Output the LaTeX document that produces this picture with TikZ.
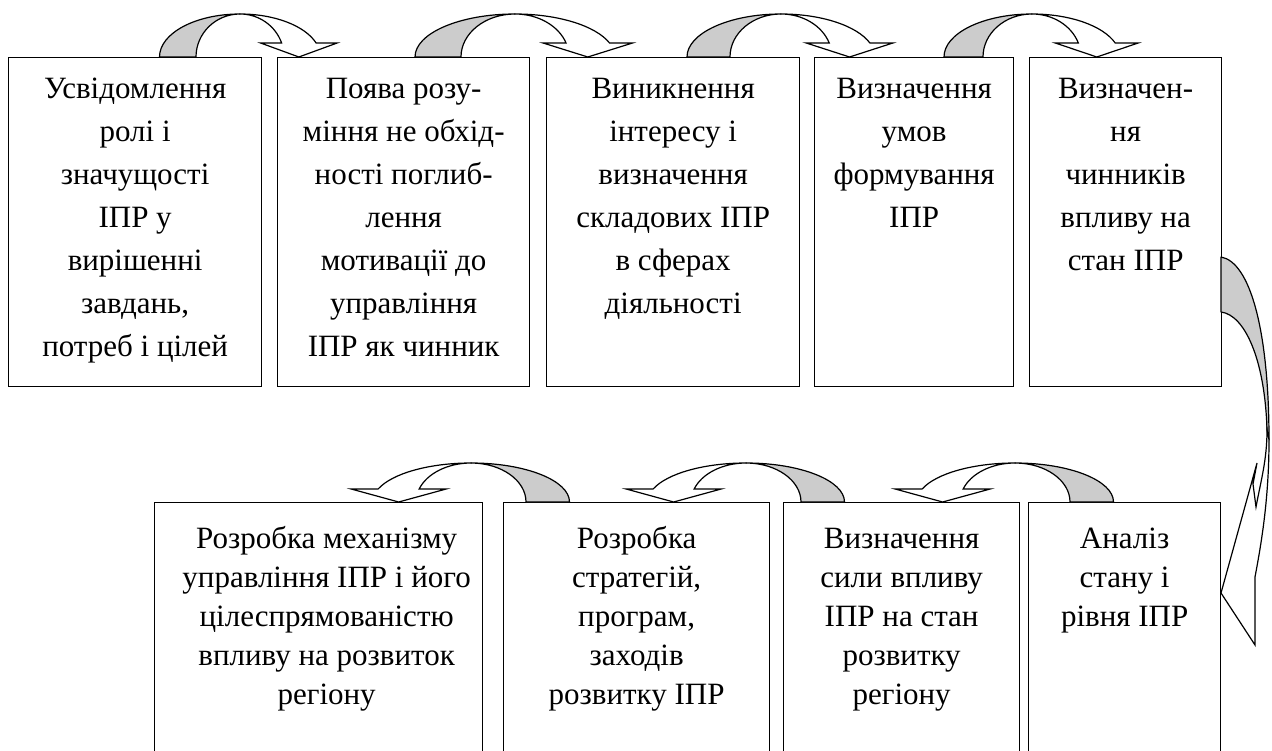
\documentclass[tikz,border=0pt]{standalone}
\usepackage{fontspec}
\setmainfont{Liberation Serif}
\tikzset{
  boxst/.style={draw, line width=1.3pt, inner sep=0pt, anchor=north west},
  ttop/.style={anchor=north, inner sep=0pt, align=center, font=\fontsize{31}{43}\selectfont},
  tbot/.style={anchor=north, inner sep=0pt, align=center, font=\fontsize{31}{39}\selectfont},
  backst/.style={fill=gray!40, draw=black, line width=1.2pt, line join=round},
  frontst/.style={fill=white, draw=black, line width=1.2pt, line join=miter},
}
% top curved arrow pointing right: #1 cx, #2 outer rx, #3 inner rx, #4 wing
\newcommand\toparr[4]{%
  \pgfmathsetmacro\xo{#1+#2*cos(19)}%
  \pgfmathsetmacro\xi{#1+#3*cos(19)}%
  \pgfmathsetmacro\xt{(\xo+\xi)/2}%
  \filldraw[backst] (#1-#2,-57) arc[start angle=180, end angle=90, x radius=#2pt, y radius=43pt]
     arc[start angle=90, end angle=180, x radius=#3pt, y radius=43pt] -- cycle;
  \filldraw[frontst] (#1,-14) arc[start angle=90, end angle=19, x radius=#2pt, y radius=43pt]
     -- (\xo+#4,-43) -- (\xt,-57) -- (\xi-#4,-43) -- (\xi,-43)
     arc[start angle=19, end angle=90, x radius=#3pt, y radius=43pt] -- cycle;
}
% bottom curved arrow pointing left
\newcommand\botarr[4]{%
  \pgfmathsetmacro\xo{#1-#2*cos(19.5)}%
  \pgfmathsetmacro\xi{#1-#3*cos(19.5)}%
  \pgfmathsetmacro\xt{(\xo+\xi)/2}%
  \filldraw[backst] (#1+#2,-502) arc[start angle=0, end angle=90, x radius=#2pt, y radius=39pt]
     arc[start angle=90, end angle=0, x radius=#3pt, y radius=39pt] -- cycle;
  \filldraw[frontst] (#1,-463) arc[start angle=90, end angle=160.5, x radius=#2pt, y radius=39pt]
     -- (\xo-#4,-489) -- (\xt,-502) -- (\xi+#4,-489) -- (\xi,-489)
     arc[start angle=160.5, end angle=90, x radius=#3pt, y radius=39pt] -- cycle;
}
\begin{document}
\begin{tikzpicture}[x=1pt, y=1pt]
\useasboundingbox (0,0) rectangle (1272,-751);
% top row boxes
\node[boxst, minimum width=253pt, minimum height=329pt] (b1) at (8,-57) {};
\node[boxst, minimum width=252pt, minimum height=329pt] (b2) at (277,-57) {};
\node[boxst, minimum width=253pt, minimum height=329pt] (b3) at (546,-57) {};
\node[boxst, minimum width=199pt, minimum height=329pt] (b4) at (814,-57) {};
\node[boxst, minimum width=192pt, minimum height=329pt] (b5) at (1029,-57) {};
% bottom row boxes
\node[boxst, minimum width=328pt, minimum height=268pt] (b6) at (154,-502) {};
\node[boxst, minimum width=266pt, minimum height=268pt] (b7) at (503,-502) {};
\node[boxst, minimum width=236pt, minimum height=268pt] (b8) at (783,-502) {};
\node[boxst, minimum width=192pt, minimum height=268pt] (b9) at (1028,-502) {};
% texts
\node[ttop] (t1) at ([yshift=-19pt]b1.north) {\rule{0pt}{22pt}Усвідомлення\\ролі і\\значущості\\ІПР у\\вирішенні\\завдань,\\потреб і цілей};
\node[ttop] (t2) at ([yshift=-19pt]b2.north) {\rule{0pt}{22pt}Поява розу-\\міння не обхід-\\ності поглиб-\\лення\\мотивації до\\управління\\ІПР як чинник};
\node[ttop] (t3) at ([yshift=-19pt]b3.north) {\rule{0pt}{22pt}Виникнення\\інтересу і\\визначення\\складових ІПР\\в сферах\\діяльності};
\node[ttop] (t4) at ([yshift=-19pt]b4.north) {\rule{0pt}{22pt}Визначення\\умов\\формування\\ІПР};
\node[ttop] (t5) at ([yshift=-19pt]b5.north) {\rule{0pt}{22pt}Визначен-\\ня\\чинників\\впливу на\\стан ІПР};
\node[tbot] (t6) at ([xshift=8pt,yshift=-24pt]b6.north) {\rule{0pt}{22pt}Розробка механізму\\управління ІПР і його\\цілеспрямованістю\\впливу на розвиток\\регіону};
\node[tbot] (t7) at ([yshift=-24pt]b7.north) {\rule{0pt}{22pt}Розробка\\стратегій,\\програм,\\заходів\\розвитку ІПР};
\node[tbot] (t8) at ([yshift=-24pt]b8.north) {\rule{0pt}{22pt}Визначення\\сили впливу\\ІПР на стан\\розвитку\\регіону};
\node[tbot] (t9) at ([yshift=-24pt]b9.north) {\rule{0pt}{22pt}Аналіз\\стану і\\рівня ІПР};
% top arrows
\toparr{240}{80.5}{44}{21}
\toparr{515}{100}{54}{23}
\toparr{781}{94}{51}{23}
\toparr{1032}{88}{49}{23}
% bottom arrows
\botarr{471}{98.5}{55}{27}
\botarr{746}{98.5}{55}{27}
\botarr{1015}{98.5}{55}{27}
% right arrow (box b5 to box b9)
\filldraw[backst] (1221,-257) .. controls (1250,-262) and (1269,-330) .. (1269,-440)
   -- (1267,-430) .. controls (1265,-360) and (1245,-315) .. (1221,-312) -- cycle;
\filldraw[frontst] (1269,-440) .. controls (1269,-500) and (1261,-545) .. (1255,-577)
   -- (1255,-645) -- (1221,-593) -- (1257,-463) -- (1253,-484) -- (1256,-507)
   .. controls (1261,-480) and (1267,-460) .. (1267,-430) -- cycle;
\end{tikzpicture}
\end{document}
